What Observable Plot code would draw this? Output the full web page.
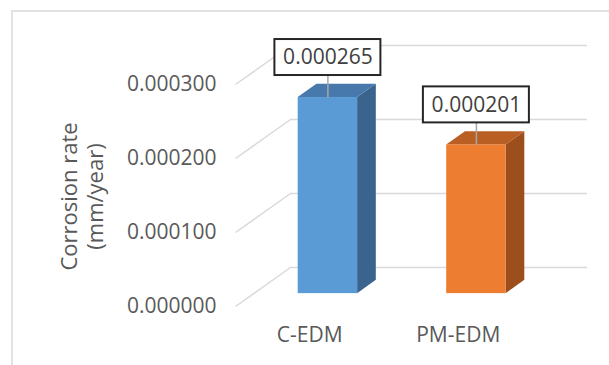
<!DOCTYPE html>
<html><head><meta charset="utf-8">
<script src="https://cdn.jsdelivr.net/npm/d3@7"></script>
<script src="https://cdn.jsdelivr.net/npm/@observablehq/plot@0.6"></script>
<style>
html,body{margin:0;padding:0;background:#fff;}
#wrap{position:relative;width:609px;height:365px;overflow:hidden;background:#fff;}
#chart svg{display:block;}
#border{position:absolute;left:11px;top:10px;width:700px;height:500px;border-left:2px solid #e2e2e2;border-top:2px solid #e2e2e2;pointer-events:none;}
</style></head><body>
<div id="wrap"><div id="chart"></div><div id="border"></div></div>
<script>
// ---- data ----
const categories = ["C-EDM", "PM-EDM"];
const values = [0.000265, 0.000201];
const yTicks = [0, 0.0001, 0.0002, 0.0003];
const frontColors = ["#5B9BD5", "#ED7D31"];
const topColors = ["#4879AC", "#BA5F24"];
const sideColors = ["#3A638D", "#9C4F1C"];

// ---- layout ----
const W = 609, H = 365, mL = 235, mR = 77, mT = 84, mB = 59;
const yMax = 0.0003;
const pxX = (W - mL - mR) / categories.length;   // px per x unit
const pxY = (H - mT - mB) / yMax;                 // px per value unit
const DX = 55 / pxX, DY = 39 / pxY;               // depth vector in data units
const t0 = 0.33, t1 = 0.67, bw = 0.4;

const bars = categories.map((c, i) => ({c, i, v: values[i], xl: i + 0.5 - bw / 2, xr: i + 0.5 + bw / 2}));
const front = bars.map(b => ({...b, x1: b.xl + t0 * DX, x2: b.xr + t0 * DX, y1: t0 * DY, y2: b.v + t0 * DY}));
const side = bars.flatMap(b => [t0, t1].map(t => ({i: b.i, x: b.xr + t * DX, y1: t * DY, y2: b.v + t * DY})));
const topF = bars.flatMap(b => [t0, t1].map(t => ({i: b.i, y: b.v + t * DY, x1: b.xl + t * DX, x2: b.xr + t * DX})));
const labels = bars.map(b => {
  const cx = (b.xl + b.xr) / 2 + t0 * DX, fy = b.v + t0 * DY;
  return {i: b.i, v: b.v, cx, fy, ly: fy + 22 / pxY, cy: fy + 40 / pxY,
    bx1: cx - 53 / pxX, bx2: cx + 53 / pxX, by1: fy + 22 / pxY, by2: fy + 58 / pxY};
});

const grid = "#d9d9d9";
const chart = Plot.plot({
  width: W, height: H,
  marginLeft: mL, marginRight: mR, marginTop: mT, marginBottom: mB,
  style: {fontFamily: "'Open Sans', sans-serif", background: "transparent"},
  x: {domain: [0, categories.length]},
  y: {domain: [0, yMax]},
  marks: [
    Plot.link(yTicks, {x1: 0, y1: d => d, x2: DX, y2: d => d + DY, stroke: grid, strokeWidth: 1.5}),
    Plot.ruleY(yTicks, {y: d => d + DY, x1: DX, x2: categories.length + DX, stroke: grid, strokeWidth: 1.5}),
    Plot.areaY(side, {x: "x", y1: "y1", y2: "y2", z: "i", fill: d => sideColors[d.i]}),
    Plot.areaX(topF, {y: "y", x1: "x1", x2: "x2", z: "i", fill: d => topColors[d.i]}),
    Plot.rect(front, {x1: "x1", x2: "x2", y1: "y1", y2: "y2", fill: d => frontColors[d.i]}),
    Plot.link(labels, {x1: "cx", x2: "cx", y1: "fy", y2: "ly", stroke: "#a6a6a6", strokeWidth: 1.5}),
    Plot.rect(labels, {x1: "bx1", x2: "bx2", y1: "by1", y2: "by2", fill: "white", stroke: "#262626", strokeWidth: 2}),
    Plot.text(labels, {x: "cx", y: "cy", text: d => d3.format(".6f")(d.v), fontSize: 21, fill: "#404040"}),
    Plot.axisY({ticks: yTicks, tickFormat: d3.format(".6f"), tickSize: 0, tickPadding: 19, fontSize: 21, fill: "#595959", label: null}),
    Plot.axisX({ticks: categories.map((c, i) => i + 0.5), tickFormat: d => categories[Math.floor(d)], tickSize: 0, tickPadding: 21, fontSize: 21, fill: "#595959", label: null}),
    Plot.text(["Corrosion rate\n(mm/year)"], {frameAnchor: "top-left", dx: 81 - mL, dy: 196 - mT, rotate: -90, fontSize: 22, lineHeight: 1.2, fill: "#595959", textAnchor: "middle", lineAnchor: "middle"})
  ]
});
document.getElementById("chart").appendChild(chart);
</script>
</body></html>
